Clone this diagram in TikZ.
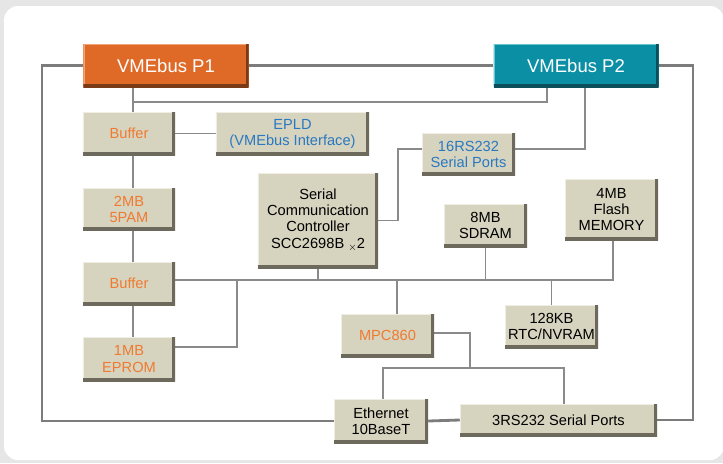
\documentclass[tikz,border=0pt]{standalone}
\usepackage{fontspec}
\setmainfont{Liberation Sans}
\usepackage{xcolor}
\usepackage{tikz}
\usetikzlibrary{positioning,calc,backgrounds}

\definecolor{bggray}{HTML}{E6E6E6}
\definecolor{boxfill}{HTML}{D6D3BF}
\definecolor{boxedge}{HTML}{6E695D}
\definecolor{boxlight}{HTML}{F0EEE4}
\definecolor{busorange}{HTML}{DF6A28}
\definecolor{busorangedk}{HTML}{7A3A16}
\definecolor{busorangelt}{HTML}{F2A47A}
\definecolor{busteal}{HTML}{0A8FA5}
\definecolor{bustealdk}{HTML}{0B4F5A}
\definecolor{bustteallt}{HTML}{6CC3D2}
\definecolor{txtorange}{HTML}{F07A30}
\definecolor{txtblue}{HTML}{2A78C0}
\definecolor{wiregray}{HTML}{8A8A8A}
\definecolor{ringgray}{HTML}{7C7C7C}

\begin{document}
\begin{tikzpicture}[x=0.03cm, y=-0.03cm,
  bevel/.style 2 args={path picture={
    \draw[#2, line width=2pt] (path picture bounding box.south west) -- (path picture bounding box.north west) -- (path picture bounding box.north east);
    \draw[#1, line width=5pt] (path picture bounding box.south west) -- (path picture bounding box.south east) -- (path picture bounding box.north east);}},
  unit/.style={rectangle, fill=boxfill, inner sep=0pt, align=center,
    font=\fontsize{12.5}{13.7}\selectfont, bevel={boxedge}{boxlight}},
  vme/.style={rectangle, inner sep=0pt, text=white, minimum width=4.95cm,
    minimum height=1.29cm, font=\fontsize{15.8}{18}\selectfont},
  wire/.style={wiregray, line width=1.3pt},
  ring/.style={ringgray, line width=2.4pt}]

\useasboundingbox (0,0) rectangle (723,463);
\begin{pgfonlayer}{background}
\fill[bggray] (0,0) rectangle (723,463);
\fill[white, rounded corners=12pt] (4,6) rectangle (724,460);
\end{pgfonlayer}

% VMEbus connectors
\node[vme, fill=busorange, bevel={busorangedk}{busorangelt}] (p1) at (166,65.5) {VMEbus P1};
\node[vme, fill=busteal, bevel={bustealdk}{bustteallt}] (p2) at (576,65.5) {VMEbus P2};

% left column
\node[unit, text=txtorange, minimum width=2.76cm, minimum height=1.29cm] (buf1) at (129,133.5) {Buffer};
\node[unit, text=txtblue, minimum width=4.59cm, minimum height=1.29cm] (epld) at (292.5,133.5) {EPLD\\(VMEbus Interface)};
\node[unit, text=txtorange, minimum width=2.76cm, minimum height=1.26cm] (sram) at (129,209) {2MB\\5PAM};
\node[unit, text=txtorange, minimum width=2.76cm, minimum height=1.29cm] (buf2) at (129,283.5) {Buffer};
\node[unit, text=txtorange, minimum width=2.76cm, minimum height=1.32cm] (eprom) at (129,359) {1MB\\EPROM};

% serial and memory
\node[unit, minimum width=3.6cm, minimum height=2.85cm] (scc) at (318,220.5) {Serial\\Communication\\Controller\\SCC2698B {\raisebox{-0.35ex}{\small$\times$}}2};
\node[unit, text=txtblue, minimum width=2.79cm, minimum height=1.26cm] (rs16) at (468.5,154) {16RS232\\Serial Ports};
\node[unit, minimum width=2.49cm, minimum height=1.29cm] (sdram) at (485.5,225.5) {8MB\\SDRAM};
\node[unit, minimum width=2.79cm, minimum height=1.83cm] (flash) at (611.5,209.5) {4MB\\Flash\\MEMORY};
\node[unit, minimum width=2.79cm, minimum height=1.29cm] (rtc) at (551.5,326.5) {128KB\\RTC/NVRAM};

% processor and ports
\node[unit, text=txtorange, minimum width=2.79cm, minimum height=1.29cm] (mpc) at (387.5,335.5) {MPC860};
\node[unit, minimum width=2.82cm, minimum height=1.32cm] (eth) at (381,421) {Ethernet\\10BaseT};
\node[unit, minimum width=5.91cm, minimum height=0.96cm] (rs3) at (558.5,420) {3RS232 Serial Ports};

\begin{pgfonlayer}{background}
% outer ring
\coordinate (ringL) at (42,65.5);
\coordinate (ringR) at (693,65.5);
\draw[ring] (p1.west) -- (ringL) |- (eth.west);
\draw[ring] (eth.east) -- (rs3.west);
\draw[ring] (rs3.east) -| (ringR) -- (p2.east);
\draw[ring] (p1.east) -- (p2.west);

% top bus
\coordinate (tb) at (133,102);
\coordinate (tbR) at (547,102);
\draw[wire] (p1.south -| tb) -- (buf1.north -| tb);
\draw[wire] (tb) -- (tbR) -- (p2.south -| tbR);
\draw[wire] (buf1.east) -- (epld.west);
\draw[wire] (buf1.south -| tb) -- (sram.north -| tb);
\draw[wire] (sram.south -| tb) -- (buf2.north -| tb);
\draw[wire] (buf2.south -| tb) -- (eprom.north -| tb);

% main bus
\coordinate (mb) at (237,280);
\coordinate (mbR) at (613,280);
\coordinate (ep) at (237,347);
\coordinate (mpcT) at (397,280);
\draw[wire] (buf2.east |- mb) -- (mbR) -- (flash.south -| mbR);
\draw[wire] (eprom.east |- ep) -- (ep) -- (mb);
\draw[wire] (scc.south) -- (scc.south |- mb);
\draw[wire] (sdram.south) -- (sdram.south |- mb);
\draw[wire] (rtc.north) -- (rtc.north |- mb);
\draw[wire] (mpcT) -- (mpc.north -| mpcT);

% serial ports
\coordinate (sr) at (398,149);
\coordinate (rp) at (585,149);
\draw[wire] (scc.east) -| (sr) -- (rs16.west |- sr);
\draw[wire] (rs16.east |- rp) -- (rp) -- (p2.south -| rp);

% processor to ports
\coordinate (mpR) at (470,333);
\coordinate (mp) at (470,368);
\coordinate (ethT) at (383,368);
\coordinate (rsT) at (564,368);
\draw[wire] (mpc.east |- mpR) -- (mpR) -- (mp);
\draw[wire] (eth.north -| ethT) -- (ethT) -- (rsT) -- (rs3.north -| rsT);
\end{pgfonlayer}

\end{tikzpicture}
\end{document}
